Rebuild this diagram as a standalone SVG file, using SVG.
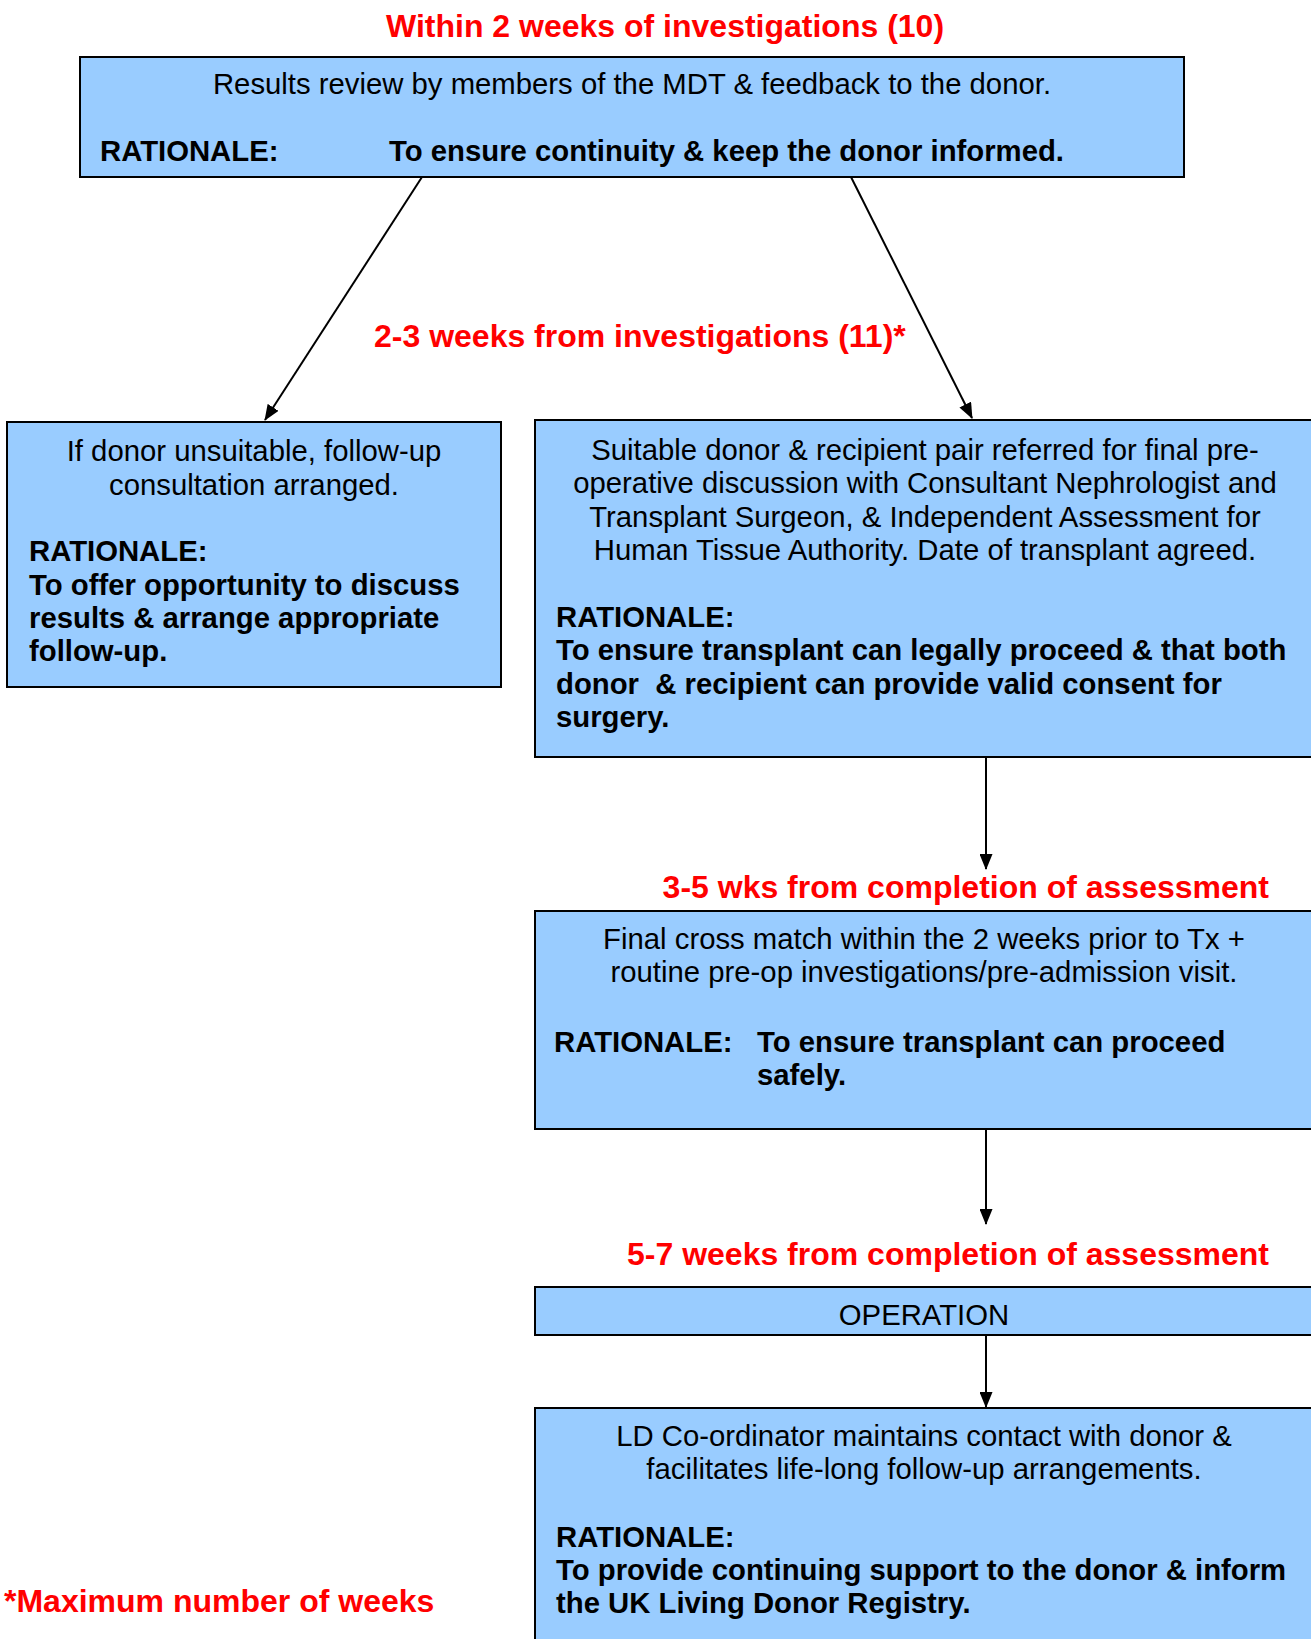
<svg xmlns="http://www.w3.org/2000/svg" width="1311" height="1639" viewBox="0 0 1311 1639">
<style>
.box{fill:#99CCFF;stroke:#000;stroke-width:2}
.t{font-family:"Liberation Sans",Arial,sans-serif;font-size:29.3px;fill:#000}
.c{text-anchor:middle}
.b{font-weight:bold}
.red{font-family:"Liberation Sans",Arial,sans-serif;font-size:32px;font-weight:bold;fill:#FF0000}
.conn{stroke:#000;stroke-width:2;fill:none;marker-end:url(#ah)}
</style>
<defs>
<marker id="ah" markerUnits="userSpaceOnUse" markerWidth="16" markerHeight="13" refX="15" refY="6.5" orient="auto">
<path d="M0,0 L16,6.5 L0,13 z" fill="#000"/>
</marker>
</defs>
<rect width="1311" height="1639" fill="#fff"/>
<text class="red" x="386" y="37">Within 2 weeks of investigations (10)</text>
<text class="red" x="374" y="347">2-3 weeks from investigations (11)*</text>
<text class="red" x="1269" y="898" text-anchor="end">3-5 wks from completion of assessment</text>
<text class="red" x="1269" y="1265" text-anchor="end">5-7 weeks from completion of assessment</text>
<text class="red" x="4" y="1612">*Maximum number of weeks</text>

<g id="connectors">
<line class="conn" x1="422" y1="177" x2="265" y2="420"/>
<line class="conn" x1="851" y1="177" x2="972" y2="418"/>
<line class="conn" x1="986" y1="757" x2="986" y2="869"/>
<line class="conn" x1="986" y1="1129" x2="986" y2="1224"/>
<line class="conn" x1="986" y1="1335" x2="986" y2="1407"/>
</g>

<g id="node-review">
<rect class="box" x="80" y="57" width="1104" height="120"/>
<text class="t c" x="632" y="94">Results review by members of the MDT &amp; feedback to the donor.</text>
<text class="t b" x="100" y="161">RATIONALE:</text>
<text class="t b" x="389" y="161">To ensure continuity &amp; keep the donor informed.</text>
</g>

<g id="node-unsuitable">
<rect class="box" x="7" y="422" width="494" height="265"/>
<text class="t c" x="254" y="461">If donor unsuitable, follow-up</text>
<text class="t c" x="254" y="494.5">consultation arranged.</text>
<text class="t b" x="29" y="561">RATIONALE:</text>
<text class="t b" x="29" y="594.5">To offer opportunity to discuss</text>
<text class="t b" x="29" y="628">results &amp; arrange appropriate</text>
<text class="t b" x="29" y="661">follow-up.</text>
</g>

<g id="node-suitable">
<rect class="box" x="535" y="420" width="800" height="337"/>
<text class="t c" x="925" y="459.5">Suitable donor &amp; recipient pair referred for final pre-</text>
<text class="t c" x="925" y="493">operative discussion with Consultant Nephrologist and</text>
<text class="t c" x="925" y="526.5">Transplant Surgeon, &amp; Independent Assessment for</text>
<text class="t c" x="925" y="560">Human Tissue Authority. Date of transplant agreed.</text>
<text class="t b" x="556" y="627">RATIONALE:</text>
<text class="t b" x="556" y="660">To ensure transplant can legally proceed &amp; that both</text>
<text class="t b" x="556" y="693.5">donor&#160; &amp; recipient can provide valid consent for</text>
<text class="t b" x="556" y="727">surgery.</text>
</g>

<g id="node-crossmatch">
<rect class="box" x="535" y="911" width="800" height="218"/>
<text class="t c" x="924" y="949">Final cross match within the 2 weeks prior to Tx +</text>
<text class="t c" x="924" y="982">routine pre-op investigations/pre-admission visit.</text>
<text class="t b" x="554" y="1052">RATIONALE:</text>
<text class="t b" x="757" y="1052">To ensure transplant can proceed</text>
<text class="t b" x="757" y="1085">safely.</text>
</g>

<g id="node-operation">
<rect class="box" x="535" y="1287" width="800" height="48"/>
<text class="t c" x="924" y="1325">OPERATION</text>
</g>

<g id="node-followup">
<rect class="box" x="535" y="1408" width="800" height="250"/>
<text class="t c" x="924" y="1446">LD Co-ordinator maintains contact with donor &amp;</text>
<text class="t c" x="924" y="1479">facilitates life-long follow-up arrangements.</text>
<text class="t b" x="556" y="1547">RATIONALE:</text>
<text class="t b" x="556" y="1580">To provide continuing support to the donor &amp; inform</text>
<text class="t b" x="556" y="1613">the UK Living Donor Registry.</text>
</g>
</svg>
